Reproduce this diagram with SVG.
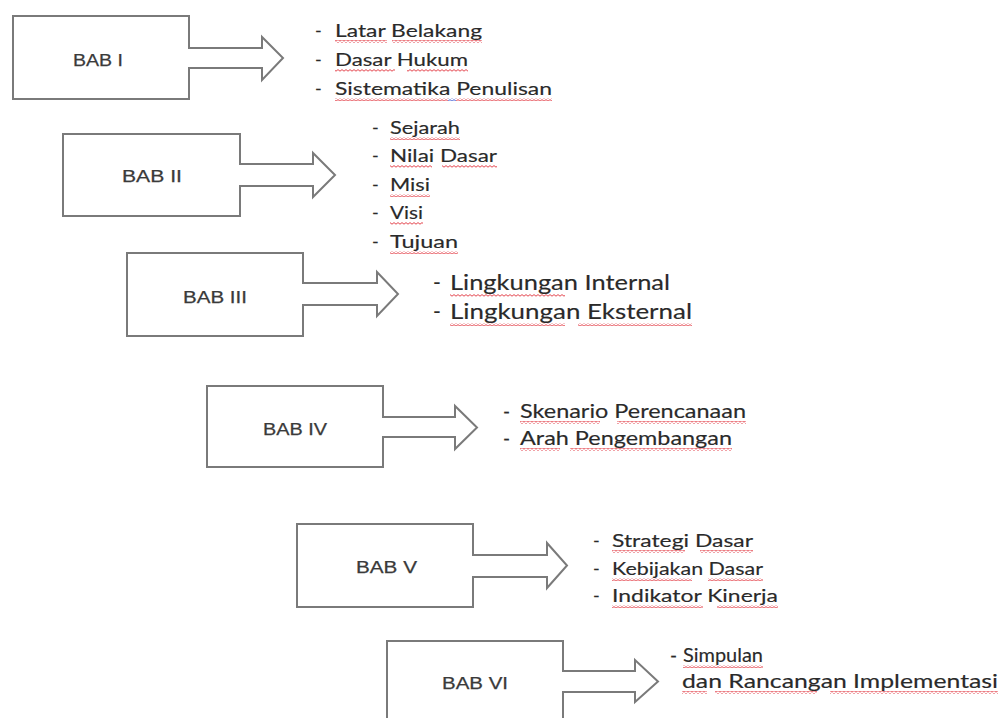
<svg xmlns="http://www.w3.org/2000/svg" width="1003" height="718" viewBox="0 0 1003 718">
<style>
.box{fill:#fff;stroke:#7a7a7a;stroke-width:2}
.af{fill:#fff;stroke:none}
.ao{fill:none;stroke:#7a7a7a;stroke-width:2;stroke-linejoin:miter}
.lbl{font-family:"Liberation Sans",Arial,sans-serif;font-size:17px;fill:#3a3a3a;stroke:#3a3a3a;stroke-width:0.25}
.li{font-family:Lato,"Open Sans",sans-serif;fill:#2a2a2a;stroke:#2a2a2a;stroke-width:0.15}
.s17{font-size:18px}.s18{font-size:19px}.s20{font-size:21px}
.w{fill:url(#wave);stroke:none}
.wb{fill:url(#waveb);stroke:none}
</style>
<defs>
<pattern id="wave" width="4" height="3" patternUnits="userSpaceOnUse">
<path d="M0 2.2 L2 0.6 L4 2.2" fill="none" stroke="#e0303a" stroke-width="0.9"/>
</pattern>
<pattern id="waveb" width="4" height="3" patternUnits="userSpaceOnUse">
<path d="M0 2.2 L2 0.6 L4 2.2" fill="none" stroke="#3050d0" stroke-width="0.9"/>
</pattern>
</defs>
<rect width="1003" height="718" fill="#fff"/>

<g id="connectors">
<polygon class="af" points="188,48 262,48 262,37 283,58 262,80 262,68 188,68"/>
<polyline class="ao" points="189,48 262,48 262,37 283,58 262,80 262,68 189,68"/>
<polygon class="af" points="239,164 313,164 313,153 335,175 313,197 313,186 239,186"/>
<polyline class="ao" points="240,164 313,164 313,153 335,175 313,197 313,186 240,186"/>
<polygon class="af" points="302,283 377,283 377,272 398,294 377,316 377,305 302,305"/>
<polyline class="ao" points="303,283 377,283 377,272 398,294 377,316 377,305 303,305"/>
<polygon class="af" points="382,417 455,417 455,406 477,427.5 455,449 455,437 382,437"/>
<polyline class="ao" points="383,417 455,417 455,406 477,427.5 455,449 455,437 383,437"/>
<polygon class="af" points="472,555 547,555 547,543 567,565.5 547,588 547,577 472,577"/>
<polyline class="ao" points="473,555 547,555 547,543 567,565.5 547,588 547,577 473,577"/>
<polygon class="af" points="562,671 635,671 635,660 658,681.5 635,702 635,692 562,692"/>
<polyline class="ao" points="563,671 635,671 635,660 658,681.5 635,702 635,692 563,692"/>
</g>

<g id="bab1">
<rect class="box" x="13" y="16" width="176" height="83"/>
<polygon class="af" points="188,49 195,49 195,67 188,67"/>
<text class="lbl" x="73" y="66" textLength="50" lengthAdjust="spacingAndGlyphs">BAB I</text>
</g>
<g id="bab1-list" class="li s17">
<text x="315" y="37">-</text><text x="335" y="37" textLength="147" lengthAdjust="spacingAndGlyphs">Latar Belakang</text>
<text x="315" y="66">-</text><text x="335" y="66" textLength="133" lengthAdjust="spacingAndGlyphs">Dasar Hukum</text>
<text x="315" y="95">-</text><text x="335" y="95" textLength="217" lengthAdjust="spacingAndGlyphs">Sistematika Penulisan</text>
<rect class="w" x="335" y="40" width="52" height="3"/><rect class="w" x="392" y="40" width="90" height="3"/>
<rect class="w" x="335" y="69" width="60" height="3"/><rect class="w" x="407" y="69" width="61" height="3"/>
<rect class="w" x="335" y="98" width="113" height="3"/><rect class="wb" x="448" y="98" width="8" height="3"/><rect class="w" x="456" y="98" width="96" height="3"/>
</g>

<g id="bab2">
<rect class="box" x="63" y="134" width="177" height="82"/>
<polygon class="af" points="239,165 246,165 246,185 239,185"/>
<text class="lbl" x="122" y="182" textLength="60" lengthAdjust="spacingAndGlyphs">BAB II</text>
</g>
<g id="bab2-list" class="li s17">
<text x="372" y="134">-</text><text x="390" y="134" textLength="70" lengthAdjust="spacingAndGlyphs">Sejarah</text>
<text x="372" y="162">-</text><text x="390" y="162" textLength="107" lengthAdjust="spacingAndGlyphs">Nilai Dasar</text>
<text x="372" y="191">-</text><text x="390" y="191" textLength="40" lengthAdjust="spacingAndGlyphs">Misi</text>
<text x="372" y="219">-</text><text x="390" y="219" textLength="33" lengthAdjust="spacingAndGlyphs">Visi</text>
<text x="372" y="248">-</text><text x="390" y="248" textLength="68" lengthAdjust="spacingAndGlyphs">Tujuan</text>
<rect class="w" x="390" y="137" width="70" height="3"/>
<rect class="w" x="390" y="165" width="42" height="3"/><rect class="w" x="442" y="165" width="55" height="3"/>
<rect class="w" x="390" y="194" width="40" height="3"/>
<rect class="w" x="390" y="222" width="33" height="3"/>
<rect class="w" x="390" y="251" width="68" height="3"/>
</g>

<g id="bab3">
<rect class="box" x="127" y="253" width="176" height="83"/>
<polygon class="af" points="302,284 309,284 309,304 302,304"/>
<text class="lbl" x="183" y="303" textLength="64" lengthAdjust="spacingAndGlyphs">BAB III</text>
</g>
<g id="bab3-list" class="li s20">
<text x="433" y="290">-</text><text x="450" y="290" textLength="220" lengthAdjust="spacingAndGlyphs">Lingkungan Internal</text>
<text x="433" y="319">-</text><text x="450" y="319" textLength="242" lengthAdjust="spacingAndGlyphs">Lingkungan Eksternal</text>
<rect class="w" x="450" y="294" width="115" height="3"/>
<rect class="w" x="450" y="323" width="115" height="3"/><rect class="w" x="578" y="323" width="114" height="3"/>
</g>

<g id="bab4">
<rect class="box" x="207" y="386" width="176" height="81"/>
<polygon class="af" points="382,418 389,418 389,436 382,436"/>
<text class="lbl" x="263" y="435" textLength="64" lengthAdjust="spacingAndGlyphs">BAB IV</text>
</g>
<g id="bab4-list" class="li s18">
<text x="503" y="418">-</text><text x="520" y="418" textLength="226" lengthAdjust="spacingAndGlyphs">Skenario Perencanaan</text>
<text x="503" y="445">-</text><text x="520" y="445" textLength="212" lengthAdjust="spacingAndGlyphs">Arah Pengembangan</text>
<rect class="w" x="520" y="421" width="80" height="3"/><rect class="w" x="617" y="421" width="129" height="3"/>
<rect class="w" x="520" y="448" width="40" height="3"/><rect class="w" x="570" y="448" width="162" height="3"/>
</g>

<g id="bab5">
<rect class="box" x="297" y="524" width="176" height="83"/>
<polygon class="af" points="472,556 479,556 479,576 472,576"/>
<text class="lbl" x="356" y="573" textLength="61" lengthAdjust="spacingAndGlyphs">BAB V</text>
</g>
<g id="bab5-list" class="li s17">
<text x="593" y="547">-</text><text x="612" y="547" textLength="141" lengthAdjust="spacingAndGlyphs">Strategi Dasar</text>
<text x="593" y="575">-</text><text x="612" y="575" textLength="151" lengthAdjust="spacingAndGlyphs">Kebijakan Dasar</text>
<text x="593" y="602">-</text><text x="612" y="602" textLength="166" lengthAdjust="spacingAndGlyphs">Indikator Kinerja</text>
<rect class="w" x="612" y="550" width="73" height="3"/><rect class="w" x="700" y="550" width="53" height="3"/>
<rect class="w" x="612" y="578" width="80" height="3"/><rect class="w" x="708" y="578" width="55" height="3"/>
<rect class="w" x="612" y="605" width="91" height="3"/><rect class="w" x="717" y="605" width="61" height="3"/>
</g>

<g id="bab6">
<rect class="box" x="387" y="641" width="176" height="90"/>
<polygon class="af" points="562,672 569,672 569,691 562,691"/>
<text class="lbl" x="442" y="689" textLength="66" lengthAdjust="spacingAndGlyphs">BAB VI</text>
</g>
<g id="bab6-list" class="li s18">
<text x="670" y="662">-</text><text x="683" y="662" textLength="80" lengthAdjust="spacingAndGlyphs">Simpulan</text>
<text x="682" y="688" textLength="316" lengthAdjust="spacingAndGlyphs">dan Rancangan Implementasi</text>
<rect class="w" x="683" y="665" width="80" height="3"/>
<rect class="w" x="682" y="691" width="25" height="3"/><rect class="w" x="715" y="691" width="102" height="3"/><rect class="w" x="830" y="691" width="168" height="3"/>
</g>
</svg>
